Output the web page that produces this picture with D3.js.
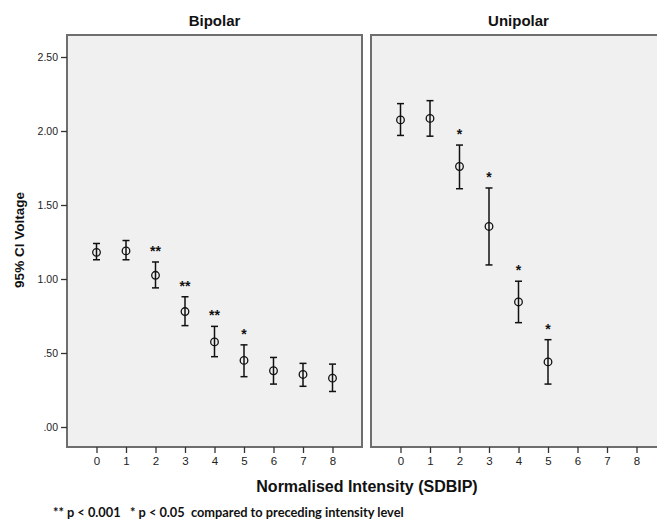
<!DOCTYPE html>
<html>
<head>
<meta charset="utf-8">
<script src="https://cdn.jsdelivr.net/npm/d3@7"></script>
<style>
  body { margin: 0; background: #fff; overflow: hidden; }
  svg { display: block; }
</style>
</head>
<body>
<div id="chart"></div>
<script>
// Values
const levels = [0, 1, 2, 3, 4, 5, 6, 7, 8];
const yTicks = [0, 0.5, 1, 1.5, 2, 2.5];

const bipolarLevel = [0, 1, 2, 3, 4, 5, 6, 7, 8];
const bipolarMean  = [1.18, 1.19, 1.025, 0.78, 0.575, 0.45, 0.38, 0.355, 0.33];
const bipolarLow   = [1.13, 1.13, 0.94, 0.685, 0.475, 0.34, 0.29, 0.275, 0.24];
const bipolarHigh  = [1.24, 1.26, 1.115, 0.88, 0.68, 0.555, 0.47, 0.43, 0.425];
const bipolarSig   = ["", "", "**", "**", "**", "*", "", "", ""];

const unipolarLevel = [0, 1, 2, 3, 4, 5];
const unipolarMean  = [2.075, 2.085, 1.76, 1.355, 0.845, 0.44];
const unipolarLow   = [1.97, 1.965, 1.61, 1.095, 0.705, 0.29];
const unipolarHigh  = [2.185, 2.205, 1.905, 1.615, 0.985, 0.59];
const unipolarSig   = ["", "", "*", "*", "*", "*"];

const panelNames = ["Bipolar", "Unipolar"];

const W = 657, H = 522;
const svg = d3.select("#chart").append("svg")
    .attr("width", W)
    .attr("height", H)
    .style("font-family", "Liberation Sans, Arial, sans-serif");

const frameTop = 35, frameBottom = 447;
// the right panel is cut off by the picture edge, so its frame runs past it
const panels = [
    { name: panelNames[0], x0: 67, x1: 362, frameEnd: 362, level: bipolarLevel, mean: bipolarMean, low: bipolarLow, high: bipolarHigh, sig: bipolarSig },
    { name: panelNames[1], x0: 371, x1: 666, frameEnd: 700, level: unipolarLevel, mean: unipolarMean, low: unipolarLow, high: unipolarHigh, sig: unipolarSig }
];

const y = d3.scaleLinear()
    .domain([0, 2.5])
    .range([427, 57]);

panels.forEach((p, pi) => {
    const x = d3.scaleLinear()
        .domain([-1, 9])
        .range([p.x0, p.x1]);

    // panel background + frame
    svg.append("rect")
        .attr("x", p.x0)
        .attr("y", frameTop)
        .attr("width", p.frameEnd - p.x0)
        .attr("height", frameBottom - frameTop)
        .attr("fill", "#f0f0f0")
        .attr("stroke", "#6e6e6e")
        .attr("stroke-width", 2);

    // panel title
    svg.append("text")
        .attr("x", (x(0) + x(8)) / 2)
        .attr("y", 26)
        .attr("text-anchor", "middle")
        .style("font-size", "15px")
        .style("font-weight", "bold")
        .attr("fill", "#111")
        .text(p.name);

    // x axis
    const xAxis = svg.append("g")
        .attr("transform", `translate(0,${frameBottom})`)
        .call(d3.axisBottom(x).tickValues(levels).tickSize(6).tickPadding(4).tickFormat(d3.format("d")));
    xAxis.select(".domain").remove();
    xAxis.selectAll("line").attr("stroke", "#333").attr("stroke-width", 1.3);
    xAxis.selectAll("text")
        .style("font-size", "11.5px")
        .style("font-family", "Liberation Sans, Arial, sans-serif")
        .attr("fill", "#222");

    // y axis only on the first panel
    if (pi === 0) {
        const yAxis = svg.append("g")
            .attr("transform", `translate(${p.x0},0)`)
            .call(d3.axisLeft(y).tickValues(yTicks).tickSize(6).tickPadding(3)
                .tickFormat(d => d3.format(".2f")(d).replace(/^0/, "")));
        yAxis.select(".domain").remove();
        yAxis.selectAll("line").attr("stroke", "#333").attr("stroke-width", 1.3);
        yAxis.selectAll("text")
            .style("font-size", "10.5px")
            .style("font-family", "Liberation Sans, Arial, sans-serif")
            .attr("fill", "#222");
    }

    const g = svg.append("g");
    const idx = d3.range(p.level.length);
    const cap = 3.5;

    // error bars
    g.selectAll(".whisker")
        .data(idx)
        .join("line")
        .attr("x1", i => x(p.level[i]))
        .attr("x2", i => x(p.level[i]))
        .attr("y1", i => y(p.low[i]))
        .attr("y2", i => y(p.high[i]))
        .attr("stroke", "#111")
        .attr("stroke-width", 1.5);

    ["low", "high"].forEach(k => {
        g.selectAll(".cap-" + k)
            .data(idx)
            .join("line")
            .attr("x1", i => x(p.level[i]) - cap)
            .attr("x2", i => x(p.level[i]) + cap)
            .attr("y1", i => y(p[k][i]))
            .attr("y2", i => y(p[k][i]))
            .attr("stroke", "#111")
            .attr("stroke-width", 1.5);
    });

    // mean markers
    g.selectAll("circle")
        .data(idx)
        .join("circle")
        .attr("cx", i => x(p.level[i]))
        .attr("cy", i => y(p.mean[i]))
        .attr("r", 3.8)
        .attr("fill", "none")
        .attr("stroke", "#111")
        .attr("stroke-width", 1.3);

    // significance stars
    g.selectAll(".sig")
        .data(idx.filter(i => p.sig[i]))
        .join("text")
        .attr("x", i => x(p.level[i]))
        .attr("y", i => y(p.high[i]) - 6)
        .attr("text-anchor", "middle")
        .style("font-size", "14px")
        .style("font-weight", "bold")
        .attr("fill", "#111")
        .text(i => p.sig[i]);
});

// axis titles
svg.append("text")
    .attr("transform", "translate(24,240) rotate(-90)")
    .attr("text-anchor", "middle")
    .style("font-size", "13.5px")
    .style("font-weight", "bold")
    .attr("fill", "#111")
    .text("95% CI Voltage");

svg.append("text")
    .attr("x", 367)
    .attr("y", 492)
    .attr("text-anchor", "middle")
    .style("font-size", "16px")
    .style("font-weight", "bold")
    .attr("fill", "#111")
    .text("Normalised Intensity (SDBIP)");

// footnote
svg.append("text")
    .attr("x", 53)
    .attr("y", 517)
    .style("font-family", "Lato, Open Sans, sans-serif")
    .style("font-size", "12.8px")
    .style("font-weight", "bold")
    .attr("fill", "#111")
    .attr("xml:space", "preserve")
    .text("** p < 0.001   * p < 0.05  compared to preceding intensity level");
</script>
</body>
</html>
